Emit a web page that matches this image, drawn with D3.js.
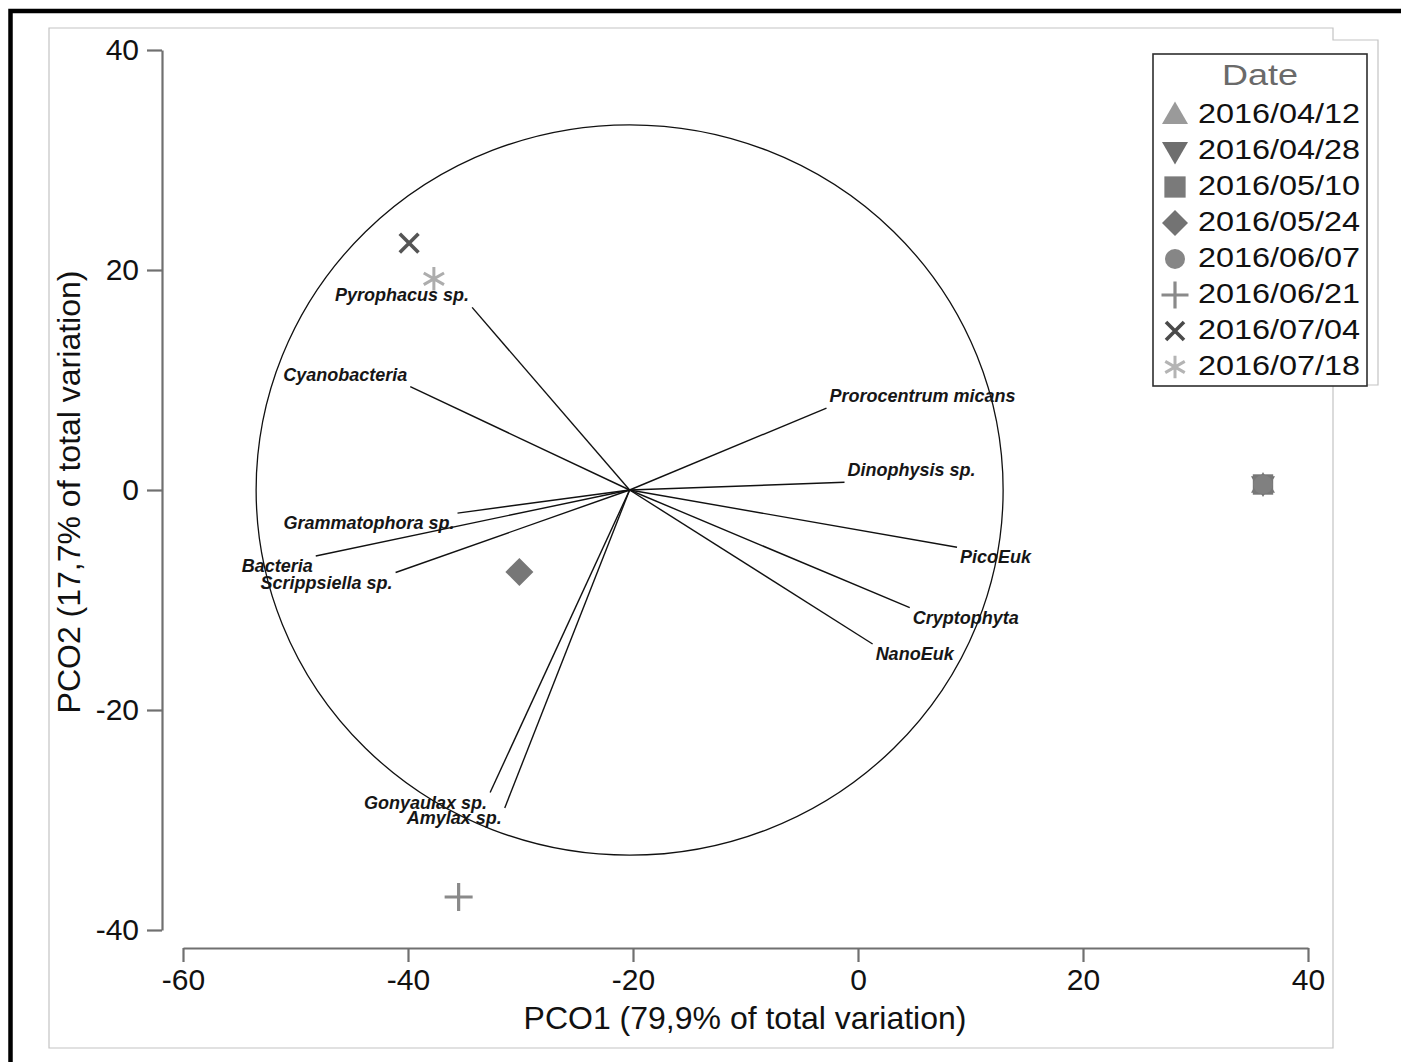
<!DOCTYPE html>
<html>
<head>
<meta charset="utf-8">
<script src="https://cdn.jsdelivr.net/npm/d3@7"></script>
<style>
  html, body { margin: 0; padding: 0; background: #fff; }
  svg { display: block; }
</style>
</head>
<body>
<script>
// ---------------- DATA ----------------
const dates = ["2016/04/12", "2016/04/28", "2016/05/10", "2016/05/24",
               "2016/06/07", "2016/06/21", "2016/07/04", "2016/07/18"];
const pco1 = [36.0, 36.0, 36.0, -30.1, 36.0, -35.5, -39.9, -37.7];
const pco2 = [0.5, 0.5, 0.5, -7.45, 0.5, -37.0, 22.45, 19.2];
const dateSymbols = ["triangleUp", "triangleDown", "square", "diamond",
                     "circle", "plus", "cross", "asterisk"];
const legendColors = ["#9a9a9a", "#6e6e6e", "#7a7a7a", "#737373",
                      "#868686", "#8a8a8a", "#4a4a4a", "#b4b4b4"];
const pointColors  = ["#7a7a7a", "#6e6e6e", "#777777", "#777777",
                      "#808080", "#8a8a8a", "#555555", "#adadad"];

const species = ["Pyrophacus sp.", "Cyanobacteria", "Prorocentrum micans",
                 "Dinophysis sp.", "PicoEuk", "Cryptophyta", "NanoEuk",
                 "Grammatophora sp.", "Bacteria", "Scrippsiella sp.",
                 "Gonyaulax sp.", "Amylax sp."];
const vecX = [-34.3, -39.8, -2.8, -1.2, 8.8, 4.6, 1.3, -35.6, -48.2, -41.1, -32.7, -31.4];
const vecY = [16.6, 9.4, 7.45, 0.7, -5.2, -10.7, -14.0, -2.1, -6.0, -7.5, -27.5, -28.9];
const vecOrigin = [-20.3, 0];
const circleRadius = 33.2;

const xTicks = [-60, -40, -20, 0, 20, 40];
const yTicks = [-40, -20, 0, 20, 40];
const xLabel = "PCO1 (79,9% of total variation)";
const yLabel = "PCO2 (17,7% of total variation)";
const legendTitle = "Date";

// ---------------- CHART ----------------
const W = 1401, H = 1062;
const svg = d3.select("body").append("svg").attr("width", W).attr("height", H);
const FONT = "'Liberation Sans', Arial, Helvetica, sans-serif";

svg.append("rect").attr("width", W).attr("height", H).attr("fill", "#fff");

const x = d3.scaleLinear().domain([-60, 40]).range([183, 1308]);
const y = d3.scaleLinear().domain([-40, 40]).range([930, 50]);

// panel frame (light gray) with legend notch
svg.append("path")
  .attr("d", "M49,28 H1333 V40 H1378 V385 H1333 V1048 H49 Z")
  .attr("fill", "none").attr("stroke", "#c4c4c4").attr("stroke-width", 1.2);

// outer black frame (top + left)
svg.append("path")
  .attr("d", "M10.5,1062 V11 H1401")
  .attr("fill", "none").attr("stroke", "#000").attr("stroke-width", 4.5);

// axes (plain hyphen minus in tick labels)
const fmt = d => String(d);
const yAxis = d3.axisLeft(y).tickValues(yTicks).tickFormat(fmt).tickSize(15).tickSizeOuter(0).tickPadding(8);
const gy = svg.append("g").attr("transform", "translate(162,0)").call(yAxis);
const xAxis = d3.axisBottom(x).tickValues(xTicks).tickFormat(fmt).tickSize(14).tickSizeOuter(0).tickPadding(7);
const gx = svg.append("g").attr("transform", "translate(0,948)").call(xAxis);
[gx, gy].forEach(g => {
  g.select(".domain").attr("stroke", "#707070").attr("stroke-width", 2.2);
  g.selectAll(".tick line").attr("stroke", "#707070").attr("stroke-width", 2.2);
  g.selectAll(".tick text").attr("font-family", FONT).attr("font-size", 30).attr("fill", "#111");
});

// axis titles
svg.append("text").attr("x", 745).attr("y", 1029).attr("text-anchor", "middle")
  .attr("font-family", FONT).attr("font-size", 32).attr("fill", "#111").text(xLabel);
svg.append("text").attr("transform", "translate(80,492) rotate(-90)").attr("text-anchor", "middle")
  .attr("font-family", FONT).attr("font-size", 32).attr("fill", "#111").text(yLabel);

// correlation circle
const cx0 = x(vecOrigin[0]), cy0 = y(vecOrigin[1]);
svg.append("ellipse")
  .attr("cx", cx0).attr("cy", cy0)
  .attr("rx", x(circleRadius) - x(0)).attr("ry", y(0) - y(circleRadius))
  .attr("fill", "none").attr("stroke", "#111").attr("stroke-width", 1.3);

// vectors + labels
const vg = svg.append("g");
species.forEach((s, i) => {
  const ex = x(vecX[i]), ey = y(vecY[i]);
  vg.append("line").attr("x1", cx0).attr("y1", cy0).attr("x2", ex).attr("y2", ey)
    .attr("stroke", "#111").attr("stroke-width", 1.4);
  const left = vecX[i] < vecOrigin[0];
  const up = vecY[i] > vecOrigin[1];
  vg.append("text")
    .attr("x", left ? ex - 3 : ex + 3)
    .attr("y", up ? ey - 6 : ey + 16)
    .attr("text-anchor", left ? "end" : "start")
    .attr("font-family", FONT).attr("font-size", 18)
    .attr("font-style", "italic").attr("font-weight", "bold")
    .attr("fill", "#161616").text(s);
});

// marker drawing
function drawMarker(g, type, cxp, cyp, size, color) {
  const gg = g.append("g").attr("transform", `translate(${cxp},${cyp})`);
  const s = size / 2;
  if (type === "triangleUp" || type === "triangleDown") {
    const h = size * 0.86;
    const p = type === "triangleUp"
      ? `M0,${-h * 0.6} L${s},${h * 0.4} L${-s},${h * 0.4} Z`
      : `M0,${h * 0.6} L${s},${-h * 0.4} L${-s},${-h * 0.4} Z`;
    gg.append("path").attr("d", p).attr("fill", color);
  } else if (type === "square") {
    const q = s * 0.85;
    gg.append("rect").attr("x", -q).attr("y", -q).attr("width", 2 * q).attr("height", 2 * q).attr("fill", color);
  } else if (type === "diamond") {
    gg.append("path").attr("d", `M0,${-s} L${s},0 L0,${s} L${-s},0 Z`).attr("fill", color);
  } else if (type === "circle") {
    gg.append("circle").attr("r", s * 0.8).attr("fill", color);
  } else if (type === "plus") {
    gg.append("path").attr("d", `M${-s},0 H${s} M0,${-s} V${s}`)
      .attr("stroke", color).attr("stroke-width", 3.2).attr("fill", "none");
  } else if (type === "cross") {
    const c = s * 0.72;
    gg.append("path").attr("d", `M${-c},${-c} L${c},${c} M${c},${-c} L${-c},${c}`)
      .attr("stroke", color).attr("stroke-width", 3.6).attr("fill", "none");
  } else if (type === "asterisk") {
    const a = s * 0.9;
    let d = `M0,${-a} V${a}`;
    [30, 150].forEach(deg => {
      const r = deg * Math.PI / 180;
      d += ` M${-a * Math.cos(r)},${-a * Math.sin(r)} L${a * Math.cos(r)},${a * Math.sin(r)}`;
    });
    gg.append("path").attr("d", d).attr("stroke", color).attr("stroke-width", 3).attr("fill", "none");
  }
}

// data points
const pg = svg.append("g");
const pointSizes = {triangleUp: 24, triangleDown: 24, square: 24, diamond: 28,
                    circle: 24, plus: 28, cross: 26, asterisk: 26};
dates.forEach((d, i) => {
  drawMarker(pg, dateSymbols[i], x(pco1[i]), y(pco2[i]), pointSizes[dateSymbols[i]], pointColors[i]);
});

// legend
const lg = svg.append("g");
lg.append("rect").attr("x", 1153).attr("y", 54).attr("width", 214).attr("height", 332)
  .attr("fill", "#fff").attr("stroke", "#2e2e2e").attr("stroke-width", 1.6);
lg.append("text").attr("transform", "translate(1260,85) scale(1.2,1)").attr("text-anchor", "middle")
  .attr("font-family", FONT).attr("font-size", 30).attr("fill", "#6a6a6a").text(legendTitle);
const legendSizes = {triangleUp: 26, triangleDown: 26, square: 25, diamond: 26,
                     circle: 25, plus: 27, cross: 25, asterisk: 25};
dates.forEach((d, i) => {
  const by = 123 + 36 * i;
  drawMarker(lg, dateSymbols[i], 1175, by - 8, legendSizes[dateSymbols[i]], legendColors[i]);
  lg.append("text").attr("transform", `translate(1198,${by}) scale(1.2,1)`)
    .attr("font-family", FONT).attr("font-size", 27).attr("fill", "#111").text(d);
});
</script>
</body>
</html>
